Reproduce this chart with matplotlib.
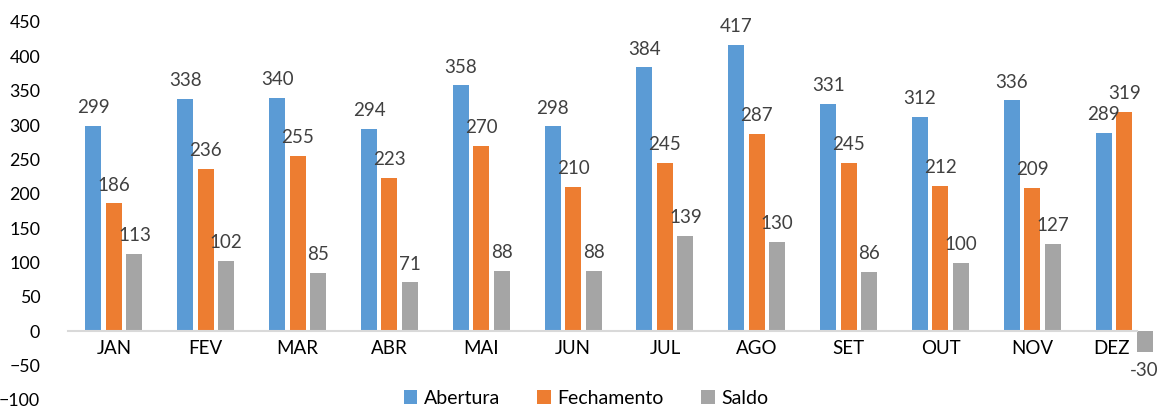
import matplotlib
matplotlib.use("AGG")
import numpy as np
import matplotlib.pyplot as plt

meses = ['JAN', 'FEV', 'MAR', 'ABR', 'MAI', 'JUN', 'JUL', 'AGO', 'SET', 'OUT', 'NOV', 'DEZ']
abertura = [299, 338, 340, 294, 358, 298, 384, 417, 331, 312, 336, 289]
fechamento = [186, 236, 255, 223, 270, 210, 245, 287, 245, 212, 209, 319]
saldo = [113, 102, 85, 71, 88, 88, 139, 130, 86, 100, 127, -30]

series = [('Abertura', abertura, '#5B9BD5'),
          ('Fechamento', fechamento, '#ED7D31'),
          ('Saldo', saldo, '#A5A5A5')]

plt.rcParams['font.family'] = ['Lato', 'DejaVu Sans']
plt.rcParams['font.size'] = 13.5

fig = plt.figure(figsize=(11.57, 4.07), dpi=100)
ax = fig.add_axes([68/1157., 7/407., 1089/1157., 378/407.])

x = np.arange(len(meses))
w = 0.174
step = 0.223
handles = []
for i, (nome, vals, cor) in enumerate(series):
    pos = x + (i - 1) * step
    bars = ax.bar(pos, vals, w, color=cor, label=nome, zorder=2)
    handles.append(bars)
    for p, v in zip(pos, vals):
        if v >= 0:
            ax.annotate(str(v), xy=(p, v), xytext=(0, 7), textcoords='offset points',
                        ha='center', va='bottom', color='#404040', fontsize=13.5)
        else:
            ax.annotate(str(v), xy=(p, v), xytext=(0, -7), textcoords='offset points',
                        ha='center', va='top', color='#404040', fontsize=13.5)

ax.set_ylim(-100, 450)
ax.set_yticks(np.arange(-100, 451, 50))
ax.set_xlim(-0.5, 11.358)
ax.set_xticks(x)
# last month is written apart, nudged left of the negative bar
ax.set_xticklabels(meses[:-1] + [''])
ax.annotate(meses[-1], xy=(x[-1], 0), xytext=(-9, -6), textcoords='offset points',
            ha='center', va='top', color='black', fontsize=13.5)

for s in ['top', 'right', 'left']:
    ax.spines[s].set_visible(False)
ax.spines['bottom'].set_position(('data', 0))
ax.spines['bottom'].set_bounds(-0.5, 11.14)
ax.spines['bottom'].set_color('#D9D9D9')
ax.spines['bottom'].set_linewidth(1.5)
ax.tick_params(axis='x', length=0, pad=6, colors='black')
ax.tick_params(axis='y', length=0, pad=20, colors='black', labelsize=12.8)

fig.legend(handles=handles, loc='center', bbox_to_anchor=(586/1157., 1 - 398/407.),
           ncol=3, frameon=False, fontsize=14, handlelength=0.7, handleheight=0.7,
           handletextpad=0.35, columnspacing=1.9, borderpad=0)

fig.savefig('out.png', dpi=100)
plt.close(fig)
